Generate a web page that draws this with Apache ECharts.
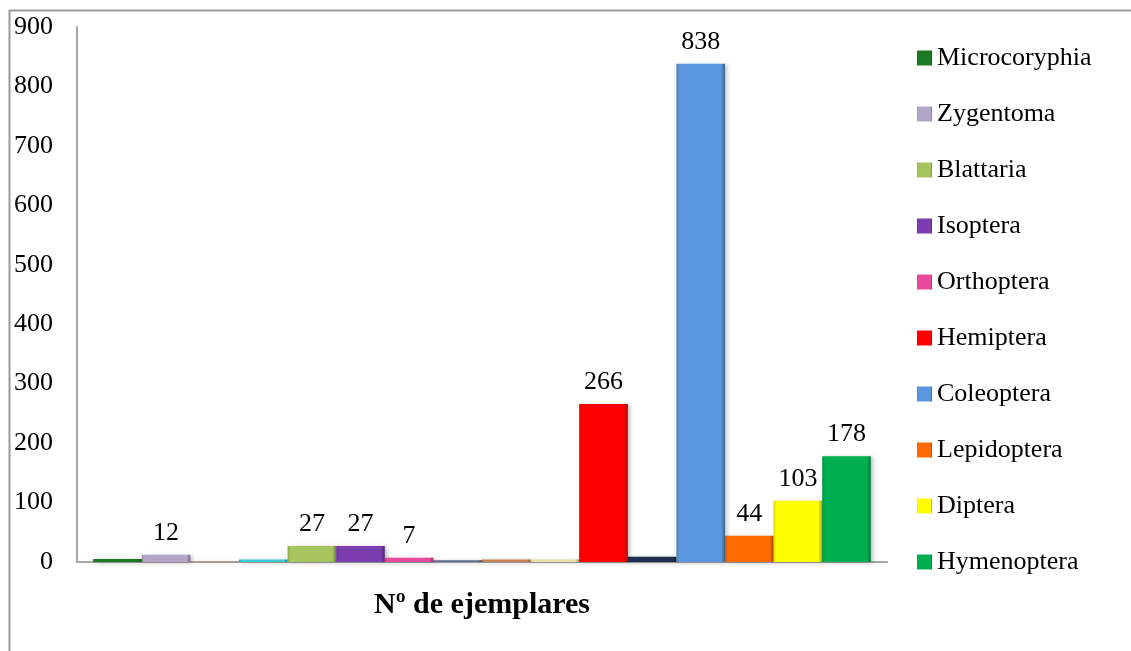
<!DOCTYPE html>
<html>
<head>
<meta charset="utf-8">
<script src="https://cdn.jsdelivr.net/npm/echarts@6/dist/echarts.min.js"></script>
<style>
html,body{margin:0;padding:0;background:#fff;}
#chart{width:1131px;height:651px;}
</style>
</head>
<body>
<div id="chart"></div>
<script>
// ---- data ----
const categories = ['Nº de ejemplares'];
const seriesNames = ['Microcoryphia','Zygentoma','Ephemeroptera','Odonata','Blattaria','Isoptera','Orthoptera',
  'Dermaptera','Psocoptera','Thysanoptera','Hemiptera','Neuroptera','Coleoptera','Lepidoptera','Diptera','Hymenoptera'];
const seriesValues = [5, 12, 1, 4, 27, 27, 7, 3, 4, 4, 266, 9, 838, 44, 103, 178];
const legendNames = ['Microcoryphia','Zygentoma','Blattaria','Isoptera','Orthoptera','Hemiptera','Coleoptera','Lepidoptera','Diptera','Hymenoptera'];
const labelledSeries = ['Zygentoma','Blattaria','Isoptera','Orthoptera','Hemiptera','Coleoptera','Lepidoptera','Diptera','Hymenoptera'];
const yTicks = [0,100,200,300,400,500,600,700,800,900];

// ---- styles ----
const seriesColors = ['#1d7a24','#b2a6c8','#b8957a','#3fc9d2','#a8c45e','#7b3cb0','#ea4a9c',
  '#5c6b8c','#c9834f','#e3e0a4','#ff0000','#1f2c4f','#5b97de','#ff6a00','#ffff00','#00b050'];
const FONT = "'Liberation Serif','Times New Roman',serif";

function shade(hex, f){
  const n = parseInt(hex.slice(1),16);
  let r=(n>>16)&255,g=(n>>8)&255,b=n&255;
  if(f<0){r=Math.round(r*(1+f));g=Math.round(g*(1+f));b=Math.round(b*(1+f));}
  else {r=Math.round(r+(255-r)*f);g=Math.round(g+(255-g)*f);b=Math.round(b+(255-b)*f);}
  return 'rgb('+r+','+g+','+b+')';
}

const chart = echarts.init(document.getElementById('chart'), null, {renderer:'canvas'});
const series = seriesNames.map((name,i)=>({
  name: name,
  type: 'bar',
  barGap: '0%',
  barCategoryGap: '4%',
  data: [seriesValues[i]],
  itemStyle: {
    color: new echarts.graphic.LinearGradient(0,0,1,0,[
      {offset:0,color:shade(seriesColors[i],-0.15)},
      {offset:0.06,color:seriesColors[i]},
      {offset:0.92,color:seriesColors[i]},
      {offset:1,color:shade(seriesColors[i],-0.35)}
    ]),
    shadowColor:'rgba(0,0,0,0.25)', shadowBlur:4, shadowOffsetX:2, shadowOffsetY:1
  },
  label: {
    show: labelledSeries.indexOf(name) >= 0,
    position: 'top',
    distance: 9,
    color: '#000',
    fontFamily: FONT,
    fontSize: 26
  }
}));

chart.setOption({
  animation: false,
  backgroundColor: '#fff',
  graphic: [{
    type:'rect', left:7, top:8, shape:{width:1140,height:700},
    style:{fill:'none', stroke:'#9a9a9a', lineWidth:2}, silent:true, z:-1
  }],
  grid: {left:77, right:244, top:27, bottom:89, containLabel:false},
  legend: {
    orient:'vertical', left:917, top:45, padding:0,
    data: legendNames,
    itemWidth:15, itemHeight:15, itemGap:30,
    icon:'rect',
    textStyle:{fontFamily:FONT, fontSize:26, color:'#000', lineHeight:26}
  },
  xAxis: {
    type:'category', data: categories,
    axisLine:{show:true, lineStyle:{color:'#a6a6a6', width:2}},
    axisTick:{show:false},
    axisLabel:{fontFamily:FONT, fontSize:30, fontWeight:'bold', color:'#000', margin:28}
  },
  yAxis: {
    type:'value', min:yTicks[0], max:yTicks[yTicks.length-1], interval:100,
    axisLine:{show:true, lineStyle:{color:'#a6a6a6', width:2}},
    axisTick:{show:false},
    splitLine:{show:false},
    axisLabel:{fontFamily:FONT, fontSize:26, color:'#000', margin:24}
  },
  series: series
});
</script>
</body>
</html>
